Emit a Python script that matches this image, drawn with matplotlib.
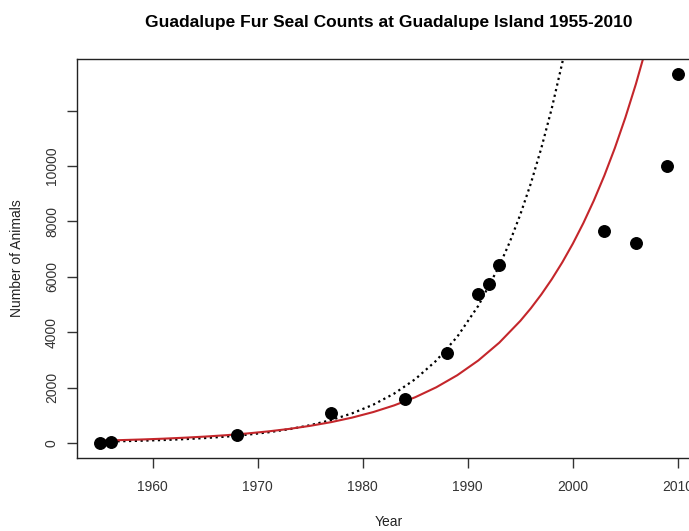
#!/usr/bin/env python3

import numpy as np
import matplotlib
matplotlib.use( 'Agg' )
import matplotlib.pyplot as plt

plt.rcParams['font.family'] = [ 'Liberation Sans', 'DejaVu Sans' ]

# observed counts
years  = [ 1955, 1956, 1968, 1977, 1984, 1988, 1991, 1992, 1993, \
           2003, 2006, 2009, 2010 ]
counts = [ 15, 50, 300, 1080, 1590, 3245, 5385, 5735, 6430, \
           7655, 7235, 10000, 13305 ]

# solid red model curve
red_years = [ 1955, 1957, 1959, 1961, 1963, 1965, 1967, 1969, 1971, \
              1973, 1975, 1977, 1979, 1981, 1983, 1985, 1987, 1989, \
              1991, 1993, 1995, 1996, 1997, 1998, 1999, 2000, 2001, \
              2002, 2003, 2004, 2005, 2006, 2007, 2008, 2009 ]
red_vals  = [ 87, 106, 129, 157, 192, 233, 283, 345, 420, \
              510, 621, 755, 919, 1118, 1360, 1654, 2012, 2448, \
              2979, 3623, 4408, 4862, 5363, 5915, 6524, 7196, 7937, \
              8753, 9654, 10648, 11746, 12954, 14290, 15760, 17382 ]

# dotted black model curve
dot_years = [ 1955, 1957, 1959, 1961, 1963, 1965, 1967, 1969, 1971, \
              1973, 1975, 1977, 1979, 1981, 1983, 1985, 1987, 1989, \
              1991, 1993, 1994, 1995, 1996, 1997, 1998, 1999, 2000 ]
dot_vals  = [ 50, 65, 84, 108, 139, 180, 232, 300, 387, \
              499, 644, 831, 1073, 1384, 1786, 2305, 2974, 3838, \
              4953, 6392, 7258, 8248, 9366, 10644, 12087, 13735, 15597 ]

xticks  = [ 1960, 1970, 1980, 1990, 2000, 2010 ]
yticks  = [ 0, 2000, 4000, 6000, 8000, 10000, 12000 ]
ylabels = [ '0', '2000', '4000', '6000', '8000', '10000', '' ]

fig = plt.figure( figsize = ( 6.89, 5.31 ), dpi = 100 )
# right edge of the box runs past the image, as in the original
ax = fig.add_axes( [ 77/689, 73/531, 624/689, 399/531 ] )

ax.plot( dot_years, dot_vals, color = 'black', lw = 1.6, \
         linestyle = ( 0, ( 1, 1.6 ) ) )
ax.plot( red_years, red_vals, color = '#c4262b', lw = 1.5 )
ax.plot( years, counts, 'o', color = 'black', markersize = 8.3 )

ax.set_xlim( 1952.8, 2012.2 )
ax.set_ylim( -540, 13860 )

ax.spines['right'].set_visible( False )
for s in [ 'left', 'bottom', 'top' ]:
    ax.spines[s].set_color( '#222222' )
    ax.spines[s].set_linewidth( 1.0 )

ax.set_xticks( xticks )
ax.set_yticks( yticks )
ax.set_yticklabels( ylabels, rotation = 90, va = 'center' )

ax.tick_params( axis = 'both', direction = 'out', length = 7, width = 1, \
                color = '#333333', labelcolor = '#333333', labelsize = 10 )
ax.tick_params( axis = 'x', pad = 9 )
ax.tick_params( axis = 'y', pad = 6 )

fig.text( 389/689, 1 - 22/531, \
          'Guadalupe Fur Seal Counts at Guadalupe Island 1955-2010', \
          ha = 'center', va = 'center', fontsize = 12.5, fontweight = 'bold' )
fig.text( 389/689, 1 - 522/531, 'Year', ha = 'center', va = 'center', \
          fontsize = 10, color = '#222222' )
fig.text( 17.5/689, 1 - 258/531, 'Number of Animals', ha = 'center', \
          va = 'center', rotation = 90, fontsize = 10, color = '#222222' )

plt.savefig( 'out.png', dpi = 100 )
plt.close()
